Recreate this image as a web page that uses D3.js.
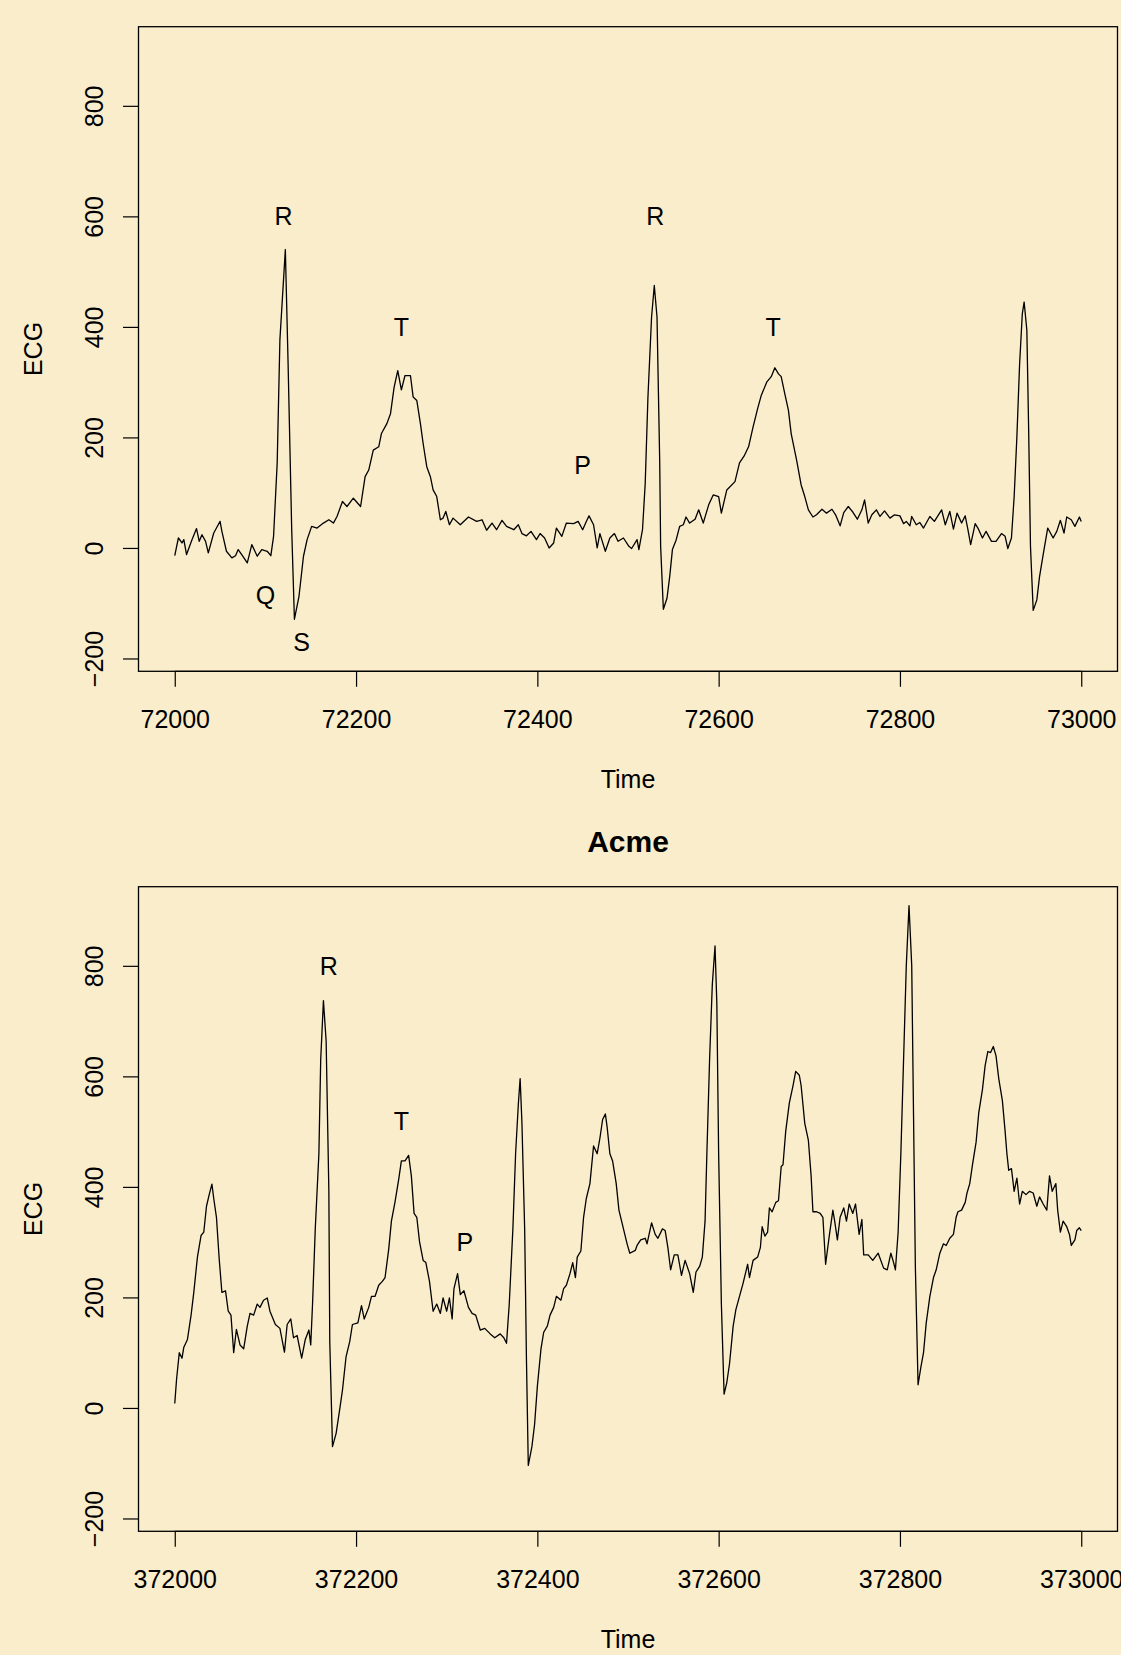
<!DOCTYPE html>
<html>
<head>
<meta charset="utf-8">
<script src="https://cdn.jsdelivr.net/npm/d3@7"></script>
<style>
  html, body { margin: 0; padding: 0; background: #FAEDCB; }
  svg { display: block; }
  text { font-family: "Liberation Sans", Arial, Helvetica, sans-serif; fill: #000; }
</style>
</head>
<body>
<svg id="chart" width="1121" height="1655"></svg>
<script>
// ---------------- DATA ----------------
const topStart = 72000;
const bottomStart = 372000;

// Top panel: time offset from 72000 and ECG value
const topTime = [0,4,8,10,13,19,24,27,30,34,37,43,46,50,52,57,63,67,70,75,80,85,91,96,102,106,109,113,116,122,125,129,132,137,142,146,151,157,164,170,175,179,185,190,197,205,210,214,219,225,228,234,238,242,246,250,254,260,263,267,271,274,278,282,285,289,293,296,299,303,307,315,324,333,339,344,350,355,361,366,374,379,383,388,393,399,403,408,413,418,421,427,432,440,445,450,454,457,462,466,469,475,480,485,489,495,501,504,510,512,516,519,522,526,529,532,535,536,539,543,546,549,553,557,561,564,568,574,578,583,589,594,600,603,609,618,623,628,633,638,643,647,653,658,662,666,669,673,677,680,686,691,695,699,704,708,714,719,725,729,734,738,743,748,753,758,761,765,769,774,778,783,789,794,800,804,807,811,813,818,822,826,833,838,846,850,855,859,863,868,872,875,878,883,886,891,895,901,906,912,916,919,923,926,929,932,935,937,940,942,944,947,951,954,958,963,969,973,977,981,984,989,993,998,1000];
const topECG = [-14,18,9,15,-12,15,35,12,24,12,-9,27,36,48,30,-6,-18,-14,-3,-15,-27,6,-15,-3,-6,-14,21,154,377,540,335,34,-129,-88,-15,15,39,36,45,51,45,57,84,75,90,75,129,141,177,183,207,225,243,291,321,286,312,312,273,267,225,189,147,129,105,93,51,54,66,42,54,42,56,48,51,32,45,33,50,39,33,42,26,22,30,15,26,18,0,9,36,21,45,44,48,33,48,58,42,0,26,-6,18,26,12,18,3,-1,15,-3,33,117,273,418,475,418,154,3,-111,-91,-52,-3,14,39,42,56,45,52,69,45,78,96,93,63,105,120,154,166,183,219,252,276,300,310,326,315,310,279,249,207,159,114,93,69,56,60,70,63,70,60,40,64,75,65,52,69,87,45,60,69,57,67,54,60,58,44,48,40,57,42,46,36,57,48,69,42,66,34,63,45,58,33,6,44,36,18,30,12,12,26,21,-1,18,93,201,333,424,445,394,213,3,-113,-94,-52,-12,36,18,30,50,27,56,51,39,56,48];

// Bottom panel ("Acme"): time offset from 372000 and ECG value
const bottomTime = [0,2,5,8,10,14,18,21,25,29,32,35,38,41,43,46,49,52,56,59,62,65,68,72,76,80,83,87,91,94,98,102,105,111,116,121,124,128,131,135,140,144,148,150,152,155,159,161,164,167,170,171,174,178,182,185,189,193,196,202,206,209,214,217,221,225,229,232,236,239,243,247,250,254,258,261,264,267,270,274,277,281,285,289,293,296,300,303,306,308,312,315,319,324,328,332,337,342,348,353,359,363,366,369,373,376,379,381,383,386,388,390,394,397,400,404,407,411,414,418,421,426,429,432,436,439,442,444,448,451,454,458,462,466,469,472,475,477,480,483,487,490,495,499,502,508,510,514,519,521,526,530,533,538,541,544,547,551,555,559,563,568,572,575,579,582,585,587,590,593,596,598,600,603,606,609,612,616,619,623,627,632,634,638,643,646,648,651,654,656,659,663,666,669,671,674,678,682,685,689,691,695,699,702,704,708,712,715,718,722,726,728,731,734,738,741,744,748,751,755,758,760,765,770,776,782,786,790,793,795,798,801,804,807,810,813,815,817,820,823,826,829,833,837,840,844,848,851,855,859,862,864,868,872,874,877,880,884,887,891,894,897,900,903,906,909,913,916,918,920,923,926,929,932,935,939,943,947,951,954,958,962,965,968,972,974,977,980,984,987,989,993,995,998,1000];
const bottomECG = [8,52,100,90,110,124,168,209,273,312,318,365,386,405,379,345,270,209,212,175,168,100,142,114,107,148,171,168,188,182,195,199,175,151,144,101,151,161,127,131,90,124,141,114,188,324,460,630,737,664,392,120,-70,-46,-2,32,93,120,151,154,185,161,182,202,202,222,229,236,287,338,373,413,447,447,457,420,352,345,301,267,263,229,175,188,171,199,175,199,161,216,243,205,212,182,171,168,141,144,134,127,134,127,117,188,324,460,549,596,515,324,86,-104,-70,-29,39,107,137,148,168,182,202,195,216,222,243,263,236,273,284,345,379,406,474,460,488,522,532,508,460,447,406,358,324,297,280,285,294,304,307,297,335,314,307,324,321,290,250,277,277,240,267,243,209,246,256,273,338,460,630,766,836,732,460,188,25,46,80,148,178,202,226,260,236,267,273,290,328,311,318,362,355,372,375,437,440,501,552,583,609,602,583,515,484,420,355,355,352,345,260,311,358,338,304,345,362,338,369,352,369,314,341,277,277,267,280,253,250,280,263,250,318,460,630,800,909,800,528,256,42,73,100,154,202,236,250,280,297,294,307,314,345,355,358,372,389,406,440,481,535,576,620,645,643,654,637,596,556,501,460,430,433,392,416,369,392,386,392,389,365,382,369,358,420,392,406,358,318,338,328,314,294,304,321,326,321];

// Axis ticks
const xTickOffsets = [0, 200, 400, 600, 800, 1000];
const yTicks = [-200, 0, 200, 400, 600, 800];
const yDomain = [-223.2, 943.2];

// Wave annotations: [time offset, value, label]
const topLabels = [[120,600,"R"],[100,-85,"Q"],[140,-170,"S"],[250,400,"T"],[450,150,"P"],[530,600,"R"],[660,400,"T"]];
const bottomLabels = [[170,800,"R"],[250,520,"T"],[320,300,"P"]];

// ---------------- DRAW ----------------
const svg = d3.select("#chart");
const FONT = 25;
const left = 138.5, right = 1117.5;

function panel(cfg) {
  const { start, times, values, labels, top, height, title } = cfg;
  const bottom = top + height;
  const x = d3.scaleLinear().domain([start - 40, start + 1040]).range([left, right]);
  const y = d3.scaleLinear().domain(yDomain).range([bottom, top]);
  const g = svg.append("g");

  // x axis
  const xa = g.append("g").attr("transform", `translate(0,${bottom})`)
    .call(d3.axisBottom(x).tickValues(xTickOffsets.map(d => start + d))
      .tickFormat(d3.format("d")).tickSize(15.5).tickSizeOuter(0));
  xa.select(".domain").remove();
  xa.selectAll(".tick line").attr("stroke", "#000").attr("stroke-width", 1.2);
  xa.selectAll(".tick text").attr("y", 56.7).attr("dy", 0)
    .style("font-size", FONT + "px").attr("fill", "#000");
  xa.append("line").attr("x1", x(start)).attr("x2", x(start + 1000))
    .attr("stroke", "#000").attr("stroke-width", 1.2);

  // y axis
  const ya = g.append("g").attr("transform", `translate(${left},0)`)
    .call(d3.axisLeft(y).tickValues(yTicks)
      .tickFormat(d => d < 0 ? "\u2212" + Math.abs(d) : String(d)).tickSize(15.5).tickSizeOuter(0));
  ya.select(".domain").remove();
  ya.selectAll(".tick line").attr("stroke", "#000").attr("stroke-width", 1.2);
  ya.selectAll(".tick text")
    .attr("x", 0).attr("y", 0).attr("dy", 0)
    .attr("transform", "translate(-35.2,0) rotate(-90)")
    .attr("text-anchor", "middle")
    .style("font-size", FONT + "px").attr("fill", "#000");

  // data line
  const pts = times.map((t, i) => [start + t, values[i]]);
  g.append("path").datum(pts)
    .attr("fill", "none").attr("stroke", "#000").attr("stroke-width", 1.3)
    .attr("stroke-linejoin", "round")
    .attr("d", d3.line().x(d => x(d[0])).y(d => y(d[1])));

  // annotations
  g.selectAll("text.lab").data(labels).enter().append("text")
    .attr("class", "lab")
    .attr("x", d => x(start + d[0])).attr("y", d => y(d[1]))
    .attr("dy", "0.36em").attr("text-anchor", "middle")
    .style("font-size", FONT + "px")
    .text(d => d[2]);

  // box
  g.append("rect").attr("x", left).attr("y", top)
    .attr("width", right - left).attr("height", height)
    .attr("fill", "none").attr("stroke", "#000").attr("stroke-width", 1.3);

  // axis titles
  g.append("text").attr("x", (left + right) / 2).attr("y", bottom + 116.7)
    .attr("text-anchor", "middle").style("font-size", FONT + "px").text("Time");
  g.append("text").attr("transform", `translate(41.7,${(top + bottom) / 2}) rotate(-90)`)
    .attr("text-anchor", "middle").style("font-size", FONT + "px").text("ECG");

  if (title) {
    g.append("text").attr("x", (left + right) / 2).attr("y", top - 35)
      .attr("text-anchor", "middle").style("font-size", "30px").style("font-weight", "bold")
      .text(title);
  }
}

panel({ start: topStart, times: topTime, values: topECG, labels: topLabels, top: 26.7, height: 644.6, title: null });
panel({ start: bottomStart, times: bottomTime, values: bottomECG, labels: bottomLabels, top: 886.7, height: 644.6, title: "Acme" });
</script>
</body>
</html>
